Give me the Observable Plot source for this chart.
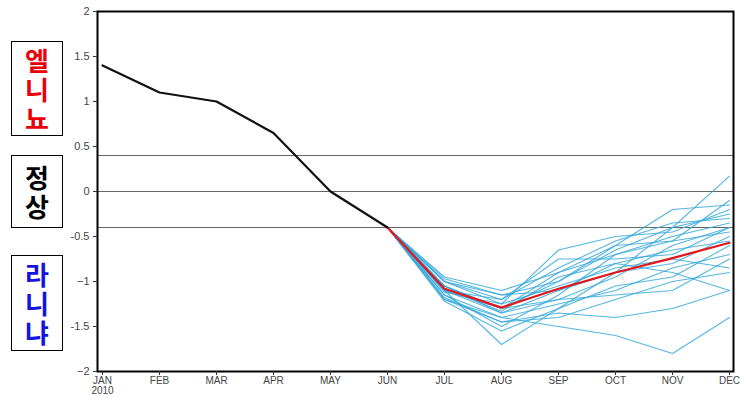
<!DOCTYPE html>
<html>
<head>
<meta charset="utf-8">
<script src="https://cdn.jsdelivr.net/npm/d3@7"></script>
<script src="https://cdn.jsdelivr.net/npm/@observablehq/plot@0.6"></script>
<style>
  body { margin: 0; background: #fff; }
  #wrap { position: relative; width: 747px; height: 400px; }
  .lab { position: absolute; border: 1px solid #000; background: #fff;
         font-family: "Noto Sans CJK KR", sans-serif; font-weight: 700;
         font-size: 26px; line-height: 29px; text-align: center; box-sizing: border-box; }
</style>
</head>
<body>
<div id="wrap"></div>
<script>
const months = ["JAN","FEB","MAR","APR","MAY","JUN","JUL","AUG","SEP","OCT","NOV","DEC"];
const monthLabels = ["JAN\n2010","FEB","MAR","APR","MAY","JUN","JUL","AUG","SEP","OCT","NOV","DEC"];
const yTicks = [2,1.5,1,0.5,0,-0.5,-1,-1.5,-2];
const yTickLabels = ["2","1.5","1","0.5","0","-0.5","\u22121","-1.5","\u22122"];
const thresholds = [0.4, 0, -0.4];

// observed NINO3.4 anomaly, Jan–Jun 2010
const observedMonths = ["JAN","FEB","MAR","APR","MAY","JUN"];
const observed = [1.4, 1.1, 1.0, 0.65, 0.0, -0.4];

// forecast months
const fcMonths = ["JUN","JUL","AUG","SEP","OCT","NOV","DEC"];
// ensemble mean
const ensembleMean = [-0.4, -1.08, -1.29, -1.08, -0.9, -0.74, -0.57];
// ensemble members
const members = [
  [-0.4, -0.95, -1.10, -0.90, -0.70, -0.50, -0.35],
  [-0.4, -1.00, -1.25, -0.65, -0.50, -0.45, -0.20],
  [-0.4, -1.05, -1.30, -1.00, -0.60, -0.20, -0.15],
  [-0.4, -1.10, -1.70, -1.30, -0.90, -0.40,  0.17],
  [-0.4, -1.15, -1.40, -1.50, -1.60, -1.80, -1.40],
  [-0.4, -1.20, -1.45, -1.35, -1.40, -1.30, -1.10],
  [-0.4, -1.10, -1.35, -1.10, -0.80, -0.90, -1.10],
  [-0.4, -1.00, -1.20, -0.85, -0.55, -0.35, -0.30],
  [-0.4, -1.05, -1.30, -1.20, -0.95, -0.60, -0.40],
  [-0.4, -1.15, -1.50, -1.15, -0.70, -0.55, -0.45],
  [-0.4, -1.20, -1.40, -1.25, -1.10, -0.85, -0.70],
  [-0.4, -1.08, -1.33, -0.95, -0.80, -0.65, -0.55],
  [-0.4, -1.12, -1.25, -1.05, -0.85, -0.75, -0.85],
  [-0.4, -1.00, -1.15, -1.00, -0.65, -0.40, -0.25],
  [-0.4, -1.18, -1.45, -1.40, -1.20, -1.00, -0.90],
  [-0.4, -1.10, -1.20, -0.75, -0.75, -0.70, -0.40],
  [-0.4, -1.22, -1.55, -1.30, -1.05, -0.95, -0.60],
  [-0.4, -0.97, -1.15, -1.10, -0.90, -0.80, -0.50],
  [-0.4, -1.05, -1.35, -1.20, -1.15, -1.10, -0.75],
  [-0.4, -1.10, -1.30, -0.90, -0.60, -0.55, -0.10]
];

const obsData = observedMonths.map((m, i) => ({month: m, value: observed[i]}));
const meanData = fcMonths.map((m, i) => ({month: m, value: ensembleMean[i]}));
const memberData = members.flatMap((vals, k) => fcMonths.map((m, i) => ({member: k, month: m, value: vals[i]})));

const plot = Plot.plot({
  width: 747,
  height: 400,
  marginLeft: 97,
  marginRight: 14,
  marginTop: 11,
  marginBottom: 29,
  style: {fontFamily: "Liberation Sans, Arial, sans-serif", fontSize: "11px", color: "#444", background: "#fff"},
  x: {type: "point", domain: months, padding: 0, label: null},
  y: {domain: [-2, 2], label: null},
  marks: [
    Plot.ruleY(thresholds, {stroke: "#666", strokeWidth: 1}),
    Plot.line(memberData, {x: "month", y: "value", z: "member", stroke: "#36a9dc", strokeWidth: 1.1, strokeOpacity: 0.85}),
    Plot.line(meanData, {x: "month", y: "value", stroke: "#e5161b", strokeWidth: 2.2}),
    Plot.line(obsData, {x: "month", y: "value", stroke: "#111", strokeWidth: 2.2}),
    Plot.frame({stroke: "#000", strokeWidth: 2}),
    Plot.axisY(yTicks, {tickSize: 4, tickPadding: 4, stroke: "#333", fill: "#444",
      tickFormat: (d) => yTickLabels[yTicks.indexOf(d)], fontSize: 11}),
    Plot.axisX(months, {tickSize: 4, tickPadding: 1, stroke: "#333", fill: "#444",
      tickFormat: (d) => monthLabels[months.indexOf(d)], fontSize: 10, lineHeight: 1.0})
  ]
});

const wrap = document.getElementById("wrap");
wrap.appendChild(plot);

const labels = [
  {text: "엘\n니\n뇨", color: "#e8000a", top: 41, height: 95},
  {text: "정\n상", color: "#000", top: 155, height: 73},
  {text: "라\n니\n냐", color: "#1414e0", top: 255, height: 96}
];
for (const l of labels) {
  const d = document.createElement("div");
  d.className = "lab";
  d.style.left = "11px";
  d.style.width = "52px";
  d.style.top = l.top + "px";
  d.style.height = l.height + "px";
  d.style.color = l.color;
  d.style.whiteSpace = "pre";
  d.style.paddingTop = l.height > 80 ? "3px" : "6px";
  d.textContent = l.text;
  wrap.appendChild(d);
}
</script>
</body>
</html>
